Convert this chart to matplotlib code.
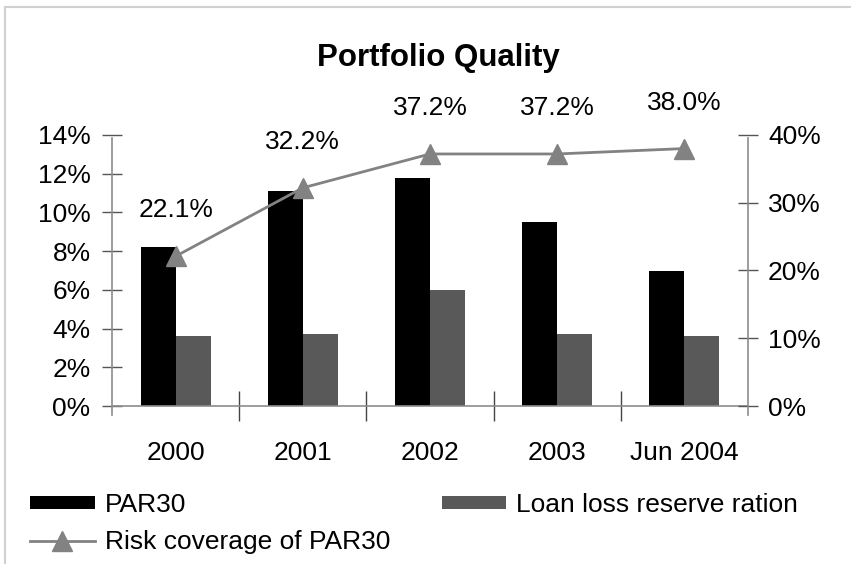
import numpy as np
import matplotlib
matplotlib.use("Agg")
import matplotlib.pyplot as plt
from matplotlib.lines import Line2D
from matplotlib.ticker import FuncFormatter, FixedLocator

plt.rcParams['font.family'] = ['Liberation Sans', 'DejaVu Sans']

# data
categories = ['2000', '2001', '2002', '2003', 'Jun 2004']
par30 = [8.2, 11.1, 11.8, 9.5, 7.0]            # % (left axis)
loan_loss_reserve = [3.6, 3.7, 6.0, 3.7, 3.6]  # % (left axis)
risk_coverage = [22.1, 32.2, 37.2, 37.2, 38.0] # % (right axis)

FS = 19
BAR_W = 0.275
LINE_GREY = '#828282'

fig = plt.figure(figsize=(8.51, 5.64), dpi=100)
ax = fig.add_axes([112 / 851, 1 - 406 / 564, (748 - 112) / 851, (406 - 135) / 564])
ax2 = ax.twinx()

x = np.arange(len(categories))
ax.bar(x - BAR_W / 2, par30, width=BAR_W, color='black', label='PAR30', zorder=2)
ax.bar(x + BAR_W / 2, loan_loss_reserve, width=BAR_W, color='#595959',
       label='Loan loss reserve ration', zorder=2)

ax2.plot(x, risk_coverage, color=LINE_GREY, lw=2, marker='^', ms=15,
         label='Risk coverage of PAR30', zorder=3)
for xi, v in zip(x, risk_coverage):
    ax2.annotate(f'{v:.1f}%', (xi, v), xytext=(0, 33), textcoords='offset points',
                 ha='center', va='center', fontsize=FS)

# left axis
ax.set_xlim(-0.5, len(categories) - 0.5)
ax.set_ylim(0, 14)
ax.set_yticks(np.arange(0, 15, 2))
ax.yaxis.set_major_formatter(FuncFormatter(lambda v, p: f'{v:.0f}%'))
ax.tick_params(axis='y', direction='inout', length=14.4, width=1, color='#555555',
               pad=8.2, labelsize=FS)

# category axis: labels centred, separators between groups
ax.set_xticks(x)
ax.set_xticklabels(categories)
ax.xaxis.set_minor_locator(FixedLocator(x[:-1] + 0.5))
ax.tick_params(axis='x', which='major', length=0, pad=25.5, labelsize=FS)
ax.tick_params(axis='x', which='minor', direction='inout', length=21.6, width=1,
               color='#444444')

# right axis
ax2.set_ylim(0, 40)
ax2.set_yticks(np.arange(0, 41, 10))
ax2.yaxis.set_major_formatter(FuncFormatter(lambda v, p: f'{v:.0f}%'))
ax2.tick_params(axis='y', direction='inout', length=14.4, width=1, color='#555555',
                pad=7.2, labelsize=FS)

for a in (ax, ax2):
    a.spines['top'].set_visible(False)
    for s in a.spines.values():
        s.set_color('#8c8c8c')
        s.set_linewidth(1.2)
ax.spines['right'].set_visible(False)
ax2.spines['left'].set_visible(False)
ax2.spines['bottom'].set_visible(False)
ax.spines['left'].set_bounds(-0.45, 13.85)
ax2.spines['right'].set_bounds(-1.3, 39.6)

fig.text(438 / 851, 1 - 58 / 564, 'Portfolio Quality', ha='center', va='center',
         fontsize=22.5, fontweight='bold')

# legend: two columns, filled column-wise
h1, l1 = ax.get_legend_handles_labels()
h2, l2 = ax2.get_legend_handles_labels()
handles = [h1[0], h2[0], h1[1]]
labels = [l1[0], l2[0], l1[1]]
fig.legend(handles, labels, ncol=2, loc='upper left',
           bbox_to_anchor=(30 / 851, 1 - 493 / 564), frameon=False, fontsize=FS,
           borderpad=0, borderaxespad=0, handlelength=2.45, handleheight=0.42,
           handletextpad=0.38, columnspacing=1.95, labelspacing=0.5)

# light frame at the top/left edges
fig.add_artist(Line2D([5 / 851, 1], [1 - 7 / 564, 1 - 7 / 564], color='#d0d0d0', lw=1.5))
fig.add_artist(Line2D([5 / 851, 5 / 851], [0, 1 - 7 / 564], color='#d0d0d0', lw=1.5))

fig.savefig('out.png', dpi=100)
